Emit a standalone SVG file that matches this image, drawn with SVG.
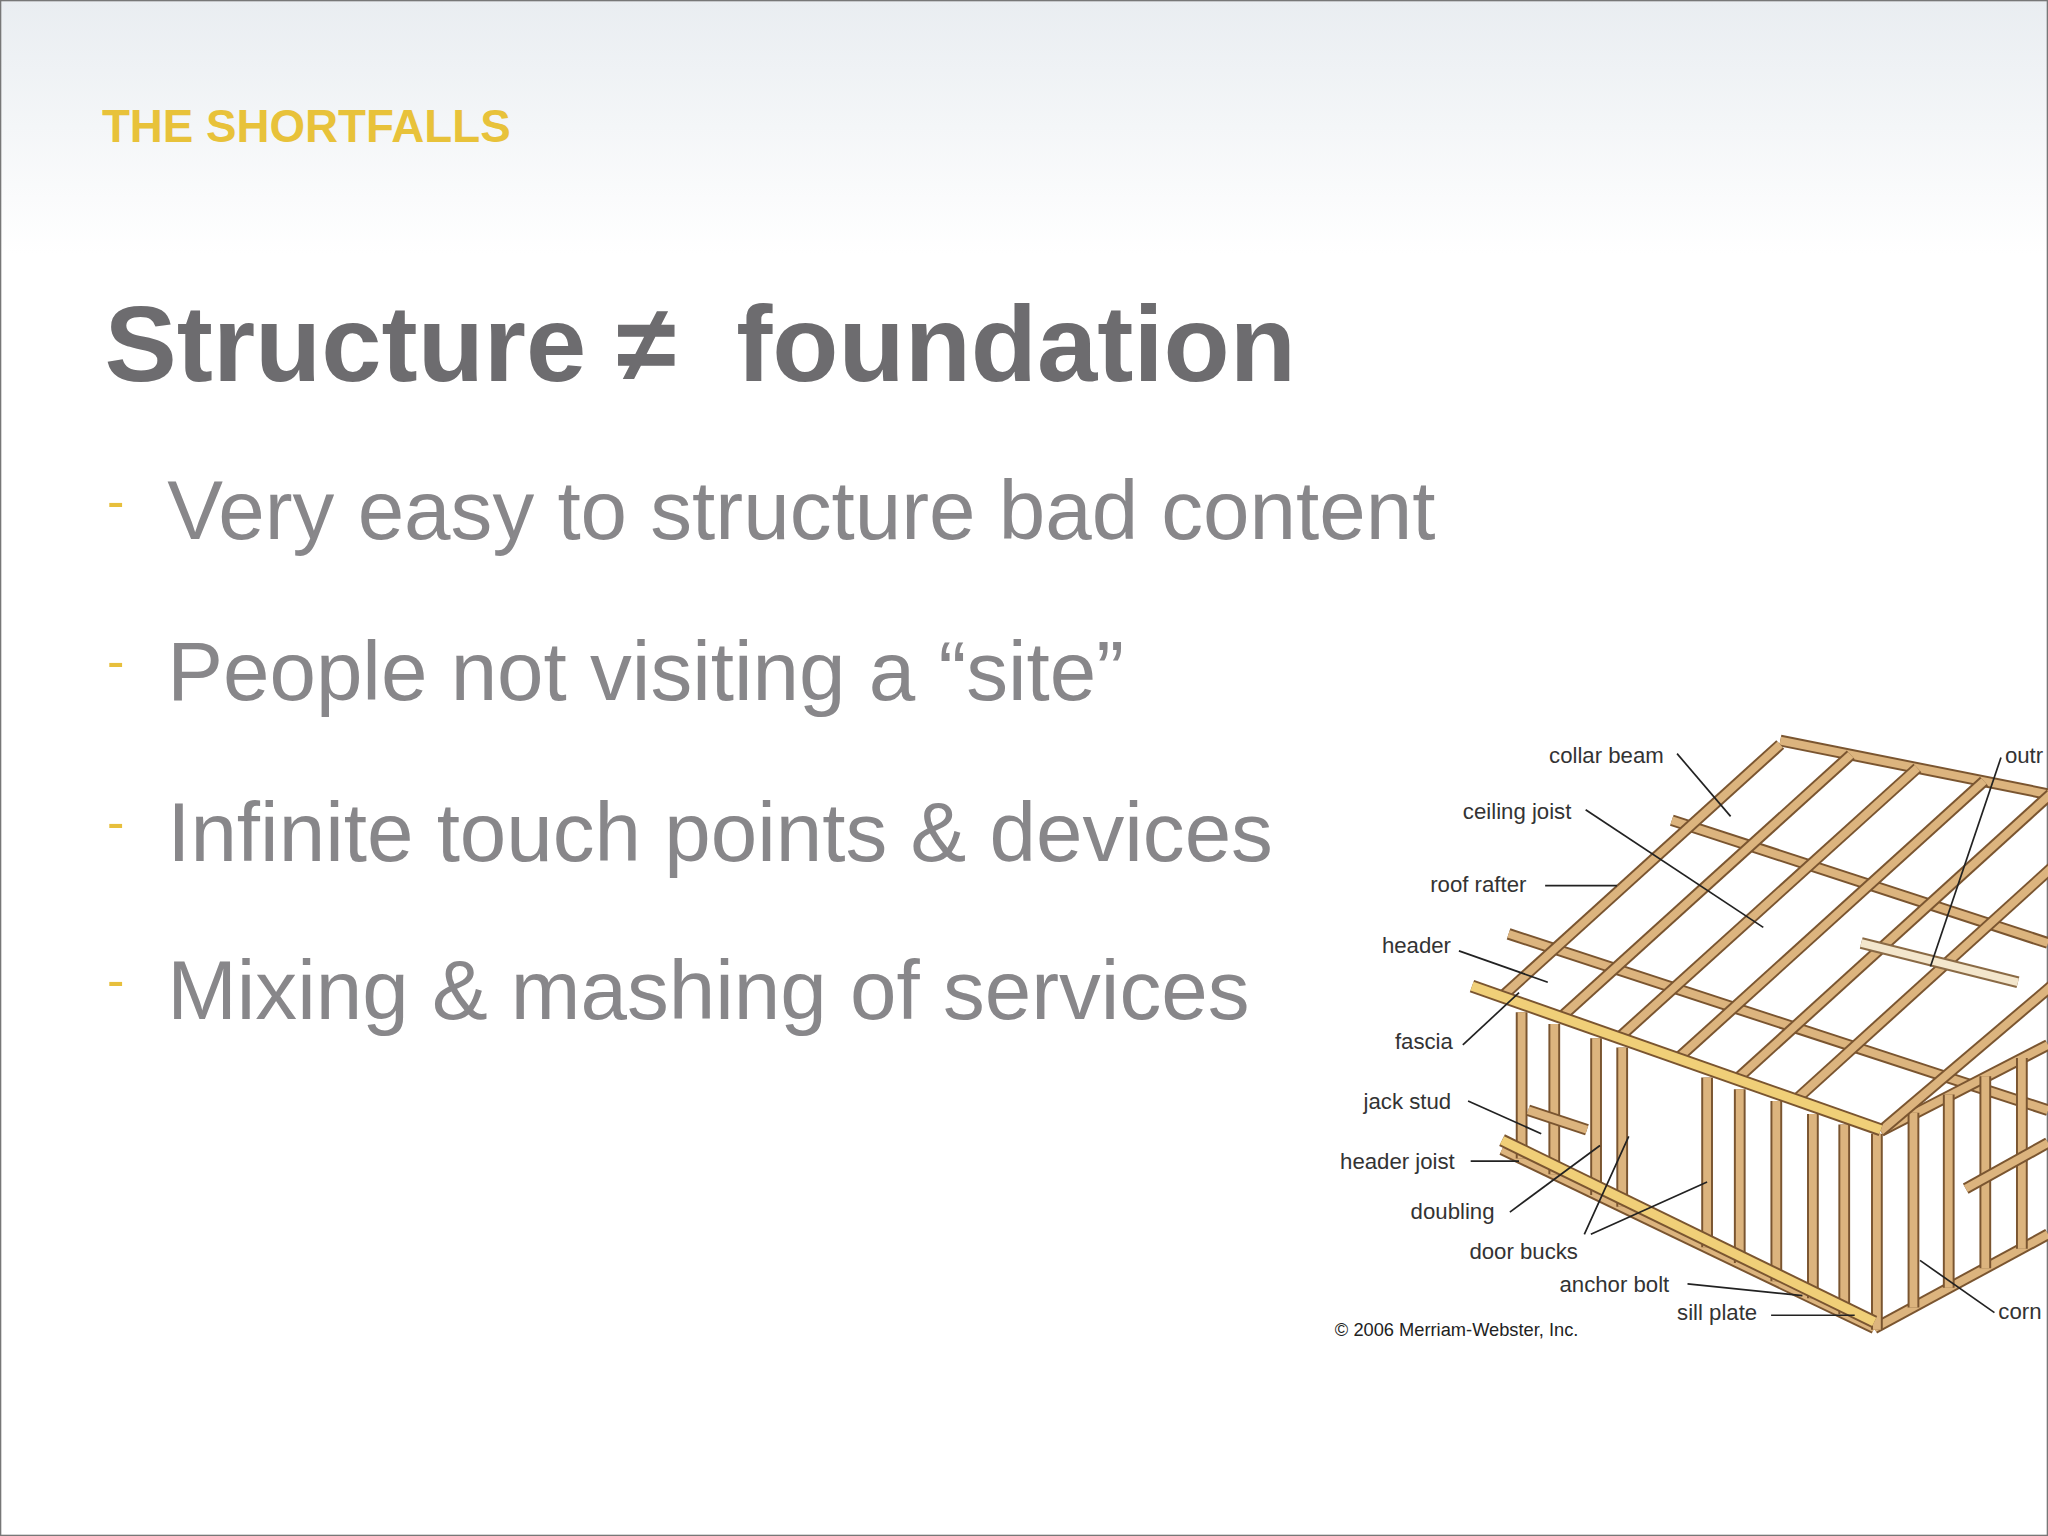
<svg xmlns="http://www.w3.org/2000/svg" width="2048" height="1536" viewBox="0 0 2048 1536">
<defs>
<linearGradient id="bg" x1="0" y1="0" x2="0" y2="1"><stop offset="0" stop-color="#e9edf1"/><stop offset="1" stop-color="#ffffff"/></linearGradient>
<clipPath id="clip"><rect x="0" y="0" width="1568" height="1176"/></clipPath>
<style>
.lbl{font-family:"Liberation Sans",Arial,sans-serif;font-size:17px;fill:#333}
.ld{stroke:#222;stroke-width:1.3;fill:none}
.wd{stroke:#7a5530;stroke-width:9;stroke-linecap:butt}
.wl{stroke:#dcb47e;stroke-width:6;stroke-linecap:butt}
.bul{font-family:"Liberation Sans",Arial,sans-serif;font-size:64px;fill:#88878a}
.dash{font-family:"Liberation Sans",Arial,sans-serif;font-size:40px;fill:#e7bf3c}
</style>
</defs>
<g transform="scale(1.30612)">
<rect x="0" y="0" width="1568" height="1176" fill="#fff"/>
<rect x="0" y="0" width="1568" height="195" fill="url(#bg)"/>
<rect x="0.5" y="0.5" width="1567" height="1175" fill="none" stroke="#777" stroke-width="1"/>
<g id="kicker"><text x="78" y="109" font-family="Liberation Sans,Arial,sans-serif" font-weight="bold" font-size="35" fill="#e8c23a">THE SHORTFALLS</text></g>
<g id="title"><text x="80" y="292" xml:space="preserve" font-family="Liberation Sans,Arial,sans-serif" font-weight="bold" font-size="83" fill="#6d6c6f">Structure ≠  foundation</text></g>
<g id="bullets">
<text class="dash" x="82" y="397">-</text><text class="bul" x="128" y="413">Very easy to structure bad content</text>
<text class="dash" x="82" y="520">-</text><text class="bul" x="128" y="536">People not visiting a “site”</text>
<text class="dash" x="82" y="643">-</text><text class="bul" x="128" y="659">Infinite touch points &amp; devices</text>
<text class="dash" x="82" y="764">-</text><text class="bul" x="128" y="780">Mixing &amp; mashing of services</text>
</g>
<g id="house" clip-path="url(#clip)">
<g>
<line class="wd" x1="1155" y1="715" x2="1568" y2="850"/><line class="wl" x1="1155" y1="715" x2="1568" y2="850"/>
<line class="wd" x1="1280" y1="628" x2="1568" y2="722"/><line class="wl" x1="1280" y1="628" x2="1568" y2="722"/>
<line class="wd" x1="1363" y1="567" x2="1568" y2="608"/><line class="wl" x1="1363" y1="567" x2="1568" y2="608"/>
<line class="wd" x1="1150" y1="880" x2="1435" y2="1017"/><line class="wl" x1="1150" y1="880" x2="1435" y2="1017"/>
<line class="wd" x1="1435" y1="1017" x2="1568" y2="945"/><line class="wl" x1="1435" y1="1017" x2="1568" y2="945"/>
<line class="wd" x1="1440" y1="866" x2="1568" y2="800"/><line class="wl" x1="1440" y1="866" x2="1568" y2="800"/>
</g>
<g>
<line class="wd" x1="1165" y1="775" x2="1165" y2="887"/><line class="wl" x1="1165" y1="775" x2="1165" y2="887"/>
<line class="wd" x1="1190" y1="784" x2="1190" y2="899"/><line class="wl" x1="1190" y1="784" x2="1190" y2="899"/>
<line class="wd" x1="1222" y1="795" x2="1222" y2="915"/><line class="wl" x1="1222" y1="795" x2="1222" y2="915"/>
<line class="wd" x1="1242" y1="802" x2="1242" y2="924"/><line class="wl" x1="1242" y1="802" x2="1242" y2="924"/>
<line class="wd" x1="1307" y1="825" x2="1307" y2="955"/><line class="wl" x1="1307" y1="825" x2="1307" y2="955"/>
<line class="wd" x1="1332" y1="834" x2="1332" y2="967"/><line class="wl" x1="1332" y1="834" x2="1332" y2="967"/>
<line class="wd" x1="1360" y1="843" x2="1360" y2="981"/><line class="wl" x1="1360" y1="843" x2="1360" y2="981"/>
<line class="wd" x1="1388" y1="853" x2="1388" y2="994"/><line class="wl" x1="1388" y1="853" x2="1388" y2="994"/>
<line class="wd" x1="1412" y1="861" x2="1412" y2="1006"/><line class="wl" x1="1412" y1="861" x2="1412" y2="1006"/>
<line class="wd" x1="1437" y1="868" x2="1437" y2="1018"/><line class="wl" x1="1437" y1="868" x2="1437" y2="1018"/>
<line class="wd" x1="1465" y1="852" x2="1465" y2="1001"/><line class="wl" x1="1465" y1="852" x2="1465" y2="1001"/>
<line class="wd" x1="1492" y1="838" x2="1492" y2="986"/><line class="wl" x1="1492" y1="838" x2="1492" y2="986"/>
<line class="wd" x1="1520" y1="824" x2="1520" y2="971"/><line class="wl" x1="1520" y1="824" x2="1520" y2="971"/>
<line class="wd" x1="1548" y1="810" x2="1548" y2="956"/><line class="wl" x1="1548" y1="810" x2="1548" y2="956"/>
<line class="wd" x1="1170" y1="850" x2="1215" y2="865"/><line class="wl" x1="1170" y1="850" x2="1215" y2="865"/>
<line class="wd" x1="1505" y1="910" x2="1568" y2="875"/><line class="wl" x1="1505" y1="910" x2="1568" y2="875"/>
</g>
<g>
<line class="wd" x1="1150" y1="763" x2="1363" y2="570"/><line class="wl" x1="1150" y1="763" x2="1363" y2="570"/>
<line class="wd" x1="1195" y1="779" x2="1417" y2="578"/><line class="wl" x1="1195" y1="779" x2="1417" y2="578"/>
<line class="wd" x1="1240" y1="794" x2="1468" y2="588"/><line class="wl" x1="1240" y1="794" x2="1468" y2="588"/>
<line class="wd" x1="1285" y1="810" x2="1519" y2="598"/><line class="wl" x1="1285" y1="810" x2="1519" y2="598"/>
<line class="wd" x1="1330" y1="826" x2="1570" y2="608"/><line class="wl" x1="1330" y1="826" x2="1570" y2="608"/>
<line class="wd" x1="1375" y1="842" x2="1622" y2="618"/><line class="wl" x1="1375" y1="842" x2="1622" y2="618"/>
<line class="wd" x1="1440" y1="866" x2="1600" y2="730"/><line class="wl" x1="1440" y1="866" x2="1600" y2="730"/>
<line stroke="#8a6a45" stroke-width="9" x1="1425" y1="722" x2="1545" y2="752"/><line stroke="#f3e6cc" stroke-width="6" x1="1425" y1="722" x2="1545" y2="752"/>
<line stroke="#7a5530" stroke-width="10" x1="1127" y1="755" x2="1440" y2="865"/><line stroke="#f0cf78" stroke-width="7" x1="1127" y1="755" x2="1440" y2="865"/>
<line stroke="#7a5530" stroke-width="10" x1="1150" y1="873" x2="1435" y2="1012"/><line stroke="#f0cf78" stroke-width="7" x1="1150" y1="873" x2="1435" y2="1012"/>
</g>
<g id="labels">
<text class="lbl" x="1186" y="584">collar beam</text><path class="ld" d="M1284,577 L1325,625"/>
<text class="lbl" x="1535" y="584">outr</text><path class="ld" d="M1532,580 L1478,740"/>
<text class="lbl" x="1120" y="627">ceiling joist</text><path class="ld" d="M1214,620 L1350,710"/>
<text class="lbl" x="1095" y="683">roof rafter</text><path class="ld" d="M1183,678 L1238,678"/>
<text class="lbl" x="1058" y="730">header</text><path class="ld" d="M1117,728 L1185,752"/>
<text class="lbl" x="1068" y="803">fascia</text><path class="ld" d="M1120,800 L1163,760"/>
<text class="lbl" x="1044" y="849">jack stud</text><path class="ld" d="M1124,843 L1180,868"/>
<text class="lbl" x="1026" y="895">header joist</text><path class="ld" d="M1126,889 L1163,889"/>
<text class="lbl" x="1080" y="933">doubling</text><path class="ld" d="M1156,928 L1225,877"/>
<text class="lbl" x="1125" y="964">door bucks</text><path class="ld" d="M1213,945 L1247,870 M1218,945 L1307,905"/>
<text class="lbl" x="1194" y="989">anchor bolt</text><path class="ld" d="M1292,983 L1380,992"/>
<text class="lbl" x="1284" y="1011">sill plate</text><path class="ld" d="M1356,1007 L1420,1007"/>
<text class="lbl" x="1530" y="1010">corn</text><path class="ld" d="M1527,1005 L1470,965"/>
<text x="1022" y="1023" font-family="Liberation Sans,Arial,sans-serif" font-size="14" fill="#222">© 2006 Merriam-Webster, Inc.</text>
</g>
</g>
</g>
</svg>
